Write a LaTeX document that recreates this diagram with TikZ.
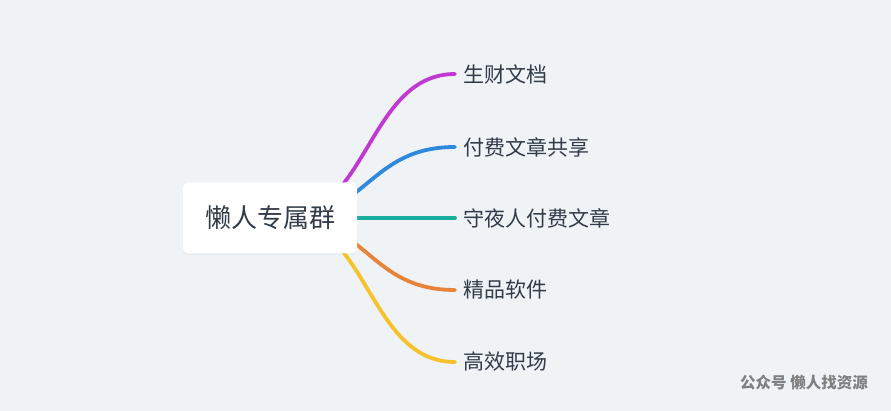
\documentclass[tikz,border=0pt]{standalone}
\usepackage{fontspec}
\setmainfont{Noto Sans CJK SC}
\usetikzlibrary{positioning, calc, shadows}
\definecolor{fond}{RGB}{240,243,246}
\definecolor{texte}{RGB}{50,60,72}
\definecolor{violet}{RGB}{192,58,210}
\definecolor{bleu}{RGB}{46,137,220}
\definecolor{sarcelle}{RGB}{26,174,158}
\definecolor{orange}{RGB}{232,132,58}
\definecolor{jaune}{RGB}{246,194,44}
\pgfdeclarelayer{fondplan}
\pgfdeclarelayer{liens}
\pgfsetlayers{fondplan,liens,main}

\begin{document}
\begin{tikzpicture}[x=1pt, y=-1pt,
    racine/.style={rectangle, rounded corners=5pt, fill=white, draw=none,
      minimum width=174pt, minimum height=71pt, inner sep=0pt, text=texte,
      font=\fontsize{26}{30}\selectfont,
      drop shadow={opacity=0.06, shadow xshift=0pt, shadow yshift=-1.5pt}},
    branche/.style={anchor=west, inner xsep=8pt, inner ysep=2pt, text=texte,
      font=\fontsize{21}{25}\selectfont},
    lien/.style={line width=3.8pt, line cap=round}]
  \begin{pgfonlayer}{fondplan}
    \fill[fond] (0,0) rectangle (891,411);
  \end{pgfonlayer}

  \node[branche] (gen) at (455,74) {生财文档};
  \node[branche] (pay) at (455,147) {付费文章共享};
  \node[branche] (gard) at (455,218) {守夜人付费文章};
  \node[branche] (logi) at (455,290) {精品软件};
  \node[branche] (bur) at (455,362) {高效职场};

  \node[racine] (R) at (270,218) {懒人专属群};
  \coordinate (dep) at ($(R.center)+(12,0)$);

  \begin{pgfonlayer}{liens}
    \draw[lien, violet] (dep) .. controls +(86,0) and +(-87,0) .. (gen.west);
    \draw[lien, bleu] (dep) .. controls +(86,0) and +(-87,0) .. (pay.west);
    \draw[lien, sarcelle] (dep) -- (gard.west);
    \draw[lien, orange] (dep) .. controls +(86,0) and +(-87,0) .. (logi.west);
    \draw[lien, jaune] (dep) .. controls +(86,0) and +(-87,0) .. (bur.west);
  \end{pgfonlayer}

  \node[font=\fontsize{15.5}{18}\selectfont\bfseries, text=black!50] (marque) at (804,383) {公众号 懒人找资源};
\end{tikzpicture}
\end{document}
